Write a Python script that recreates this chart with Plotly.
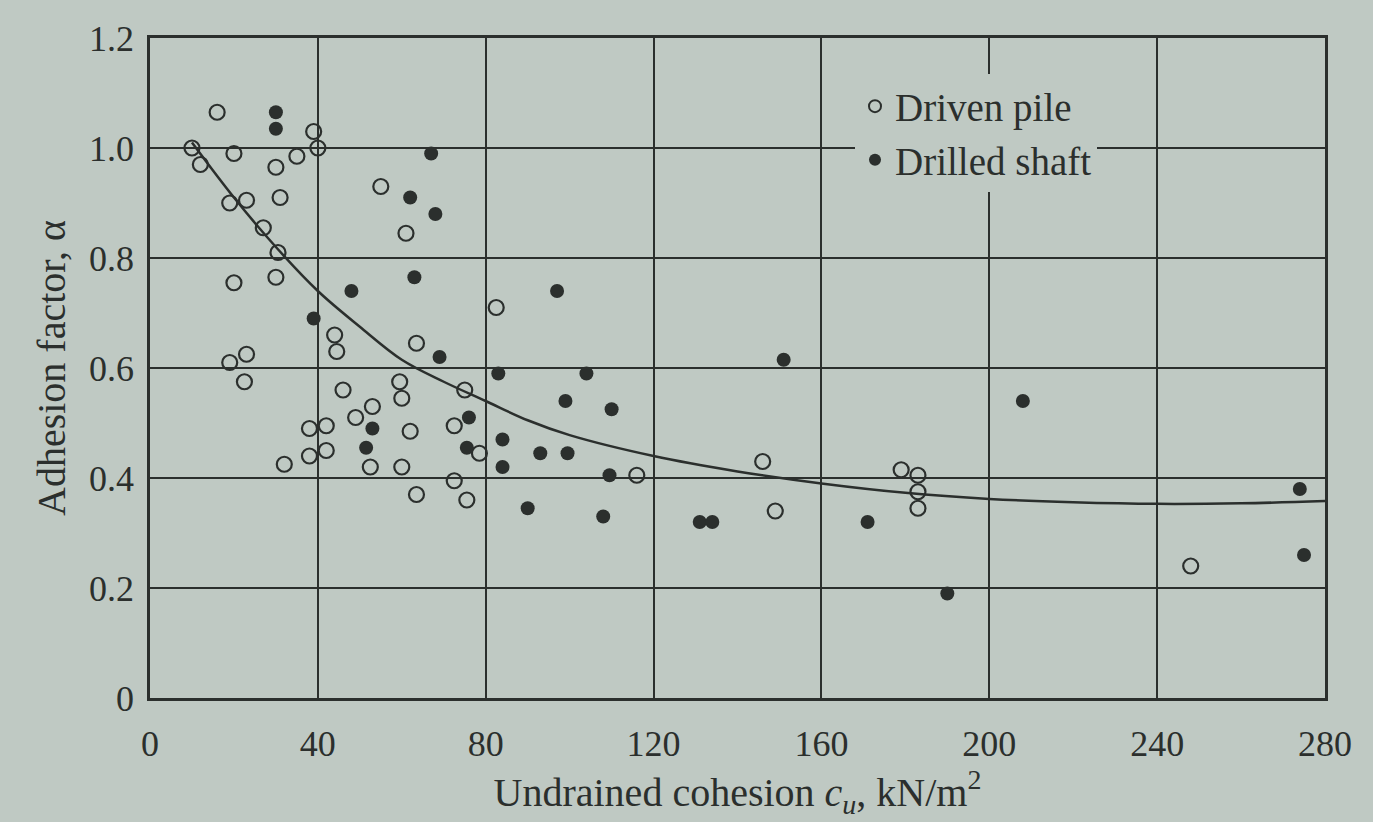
import plotly.graph_objects as go

# Driven pile (open circles)
driven_x = [10, 12, 16, 20, 19, 23, 27, 30, 31, 30.5, 35, 39, 40, 20, 30, 19, 23, 22.5,
            32, 38, 38, 42, 42, 44, 44.5, 46, 49, 53, 52.5, 59.5, 60, 60, 62, 63.5, 63.5,
            61, 55, 72.5, 75, 72.5, 75.5, 78.5, 82.5, 116, 146, 149, 179, 183, 183, 183, 248]
driven_y = [1.0, 0.97, 1.065, 0.99, 0.90, 0.905, 0.855, 0.965, 0.91, 0.81, 0.985, 1.03, 1.0,
            0.755, 0.765, 0.61, 0.625, 0.575, 0.425, 0.44, 0.49, 0.495, 0.45, 0.66, 0.63,
            0.56, 0.51, 0.53, 0.42, 0.575, 0.545, 0.42, 0.485, 0.37, 0.645, 0.845, 0.93,
            0.495, 0.56, 0.395, 0.36, 0.445, 0.71, 0.405, 0.43, 0.34, 0.415, 0.405, 0.375,
            0.345, 0.24]

# Drilled shaft (filled circles)
drilled_x = [30, 30, 67, 62, 68, 63, 48, 39, 69, 97, 151, 83, 104, 99, 110, 76, 75.5,
             53, 51.5, 84, 84, 93, 99.5, 109.5, 90, 108, 131, 134, 171, 190, 208, 274, 275]
drilled_y = [1.065, 1.035, 0.99, 0.91, 0.88, 0.765, 0.74, 0.69, 0.62, 0.74, 0.615, 0.59,
             0.59, 0.54, 0.525, 0.51, 0.455, 0.49, 0.455, 0.47, 0.42, 0.445, 0.445, 0.405,
             0.345, 0.33, 0.32, 0.32, 0.32, 0.19, 0.54, 0.38, 0.26]

# Fitted trend curve
curve_x = [10, 20, 30, 40, 50, 60, 70, 80, 90, 100, 120, 140, 160, 180, 200, 220, 240, 260, 280]
curve_y = [1.01, 0.91, 0.82, 0.74, 0.675, 0.615, 0.575, 0.54, 0.505, 0.478, 0.44, 0.412,
           0.39, 0.373, 0.362, 0.356, 0.353, 0.354, 0.358]

x_ticks = [0, 40, 80, 120, 160, 200, 240, 280]
y_ticks = [0, 0.2, 0.4, 0.6, 0.8, 1.0, 1.2]
y_tick_text = ["0", "0.2", "0.4", "0.6", "0.8", "1.0", "1.2"]

ink = "#2b2f2d"
paper = "#bfc9c3"
font_family = "Liberation Serif, DejaVu Serif, serif"

fig = go.Figure()
fig.add_trace(go.Scatter(x=curve_x, y=curve_y, mode="lines", line=dict(color=ink, width=2.5, shape="spline"),
                         showlegend=False, hoverinfo="skip"))
fig.add_trace(go.Scatter(x=driven_x, y=driven_y, mode="markers", name="Driven pile",
                         marker=dict(symbol="circle-open", size=15, color=ink, line=dict(width=2.2, color=ink))))
fig.add_trace(go.Scatter(x=drilled_x, y=drilled_y, mode="markers", name="Drilled shaft",
                         marker=dict(symbol="circle", size=14, color=ink)))

axis_common = dict(showline=True, linecolor=ink, linewidth=2.5, mirror=True,
                   showgrid=True, gridcolor=ink, gridwidth=1.8, zeroline=False,
                   ticks="", tickfont=dict(family=font_family, size=36, color=ink))

fig.update_layout(
    width=1373, height=822,
    paper_bgcolor=paper, plot_bgcolor=paper,
    margin=dict(l=150, r=48, t=38, b=124),
    font=dict(family=font_family, color=ink),
    xaxis=dict(range=[0, 280], tickvals=x_ticks, ticklabelstandoff=12, **axis_common,
               title=dict(text="Undrained cohesion <i>c<sub>u</sub></i>, kN/m<sup>2</sup>",
                          font=dict(family=font_family, size=40, color=ink), standoff=14)),
    yaxis=dict(range=[0, 1.2], tickvals=y_ticks, ticktext=y_tick_text, ticklabelstandoff=6, **axis_common,
               title=dict(text="Adhesion factor, α", font=dict(family=font_family, size=40, color=ink),
                          standoff=12)),
    legend=dict(x=0.6, y=0.945, xanchor="left", yanchor="top", bgcolor=paper, borderwidth=0,
                font=dict(family=font_family, size=39, color=ink), itemsizing="constant",
                tracegroupgap=0),
)

fig.write_html("out.html", config={"displayModeBar": False},
               post_script="document.body.style.margin='0';document.body.style.background='%s';" % paper)
